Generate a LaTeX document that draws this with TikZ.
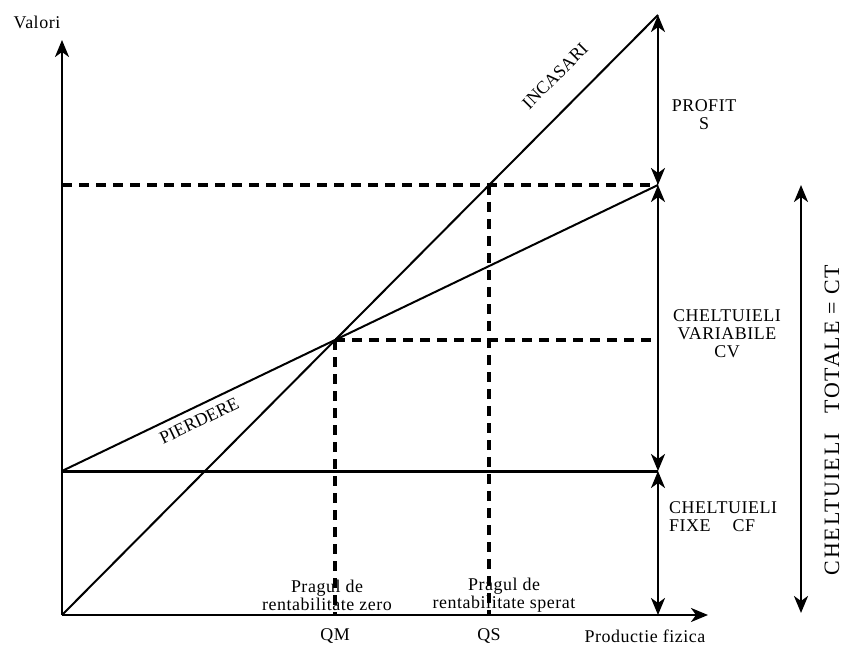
\documentclass[tikz,border=0pt]{standalone}
\usepackage{fontspec}
\setmainfont{Liberation Serif}[LetterSpace=3]
\newfontfamily\plainfont{Liberation Serif}
\newfontfamily\widefont{Liberation Serif}[LetterSpace=8]
\usetikzlibrary{arrows.meta}
\tikzstyle{axisline} = [line width=2.5bp, -{Stealth[length=17bp, width=14bp, inset=5bp]}]
\tikzstyle{spanarrow} = [line width=2.5bp,
    {Stealth[length=17bp, width=14bp, inset=5bp]}-{Stealth[length=17bp, width=14bp, inset=5bp]}]
\tikzstyle{costline} = [line width=2bp]
\tikzstyle{fixline} = [line width=3bp]
\tikzstyle{guideline} = [line width=3.5bp, dash pattern=on 10bp off 7bp]
\tikzstyle{lbl} = [font=\fontsize{18}{18}\selectfont, inner sep=0pt]
\tikzstyle{slopelbl} = [font=\plainfont\fontsize{18}{18}\selectfont, inner sep=0pt, sloped]

\begin{document}
\begin{tikzpicture}[x=1bp, y=-1bp]
\useasboundingbox (0,0) rectangle (845,647);
% main points
\coordinate (O) at (62,615);
\coordinate (Ytop) at (62,40);
\coordinate (Xend) at (708,615);
\coordinate (A) at (62,471);
\coordinate (P) at (658,15);
\coordinate (C) at (658,185);
\coordinate (F) at (658,471);
\coordinate (B) at (658,615);
\coordinate (M) at (335,340);
\coordinate (S) at (489,185);
\coordinate (Mx) at (335,615);
\coordinate (Sx) at (489,615);
\coordinate (Mr) at (658,340);
\coordinate (Cl) at (62,185);
\coordinate (Ttop) at (801,185);
\coordinate (Tbot) at (801,613);

% axes
\draw[axisline] (O) -- (Ytop);
\draw[axisline] (O) -- (Xend);
\node[lbl] (valori) at (37,22) {Valori};
\node[lbl] (prod) at (645,636) {Productie fizica};
\node[lbl] (qm) at (335,636) {QM};
\node[lbl] (qs) at (489,636) {QS};

% guides
\draw[guideline] (Cl) -- (C);
\draw[guideline] (M) -- (Mr);
\draw[guideline] (M) -- (Mx);
\draw[guideline] (S) -- (Sx);

% cost and revenue
\draw[fixline] (A) -- (F);
\draw[costline] (A) -- node[slopelbl, below=7bp, pos=0.22] {PIERDERE} (C);
\draw[costline] (O) -- node[slopelbl, above=23bp, pos=0.863] {INCASARI} (P);

% spans
\draw[spanarrow] (P) -- (C);
\draw[spanarrow] (C) -- (F);
\draw[spanarrow] (F) -- (B);
\draw[spanarrow] (Ttop) -- (Tbot);

\node[lbl, align=center] (profit) at (704,115) {PROFIT\\S};
\node[lbl, align=center] (cv) at (727,334) {CHELTUIELI\\VARIABILE\\CV};
\node[lbl, align=left, anchor=west] (cf) at (669,517) {CHELTUIELI\\FIXE\hspace{22bp}CF};
\node[lbl, align=center] (zero) at (327,595) {Pragul de\\rentabilitate zero};
\node[lbl, align=center] (sperat) at (504,595) {Pragul de\\rentabilitate sperat};
\node[inner sep=0pt, rotate=90, font=\widefont\fontsize{22}{24}\selectfont] (ct) at (832,420)
    {CHELTUIELI\hspace{20bp}TOTALE = CT};
\end{tikzpicture}
\end{document}
